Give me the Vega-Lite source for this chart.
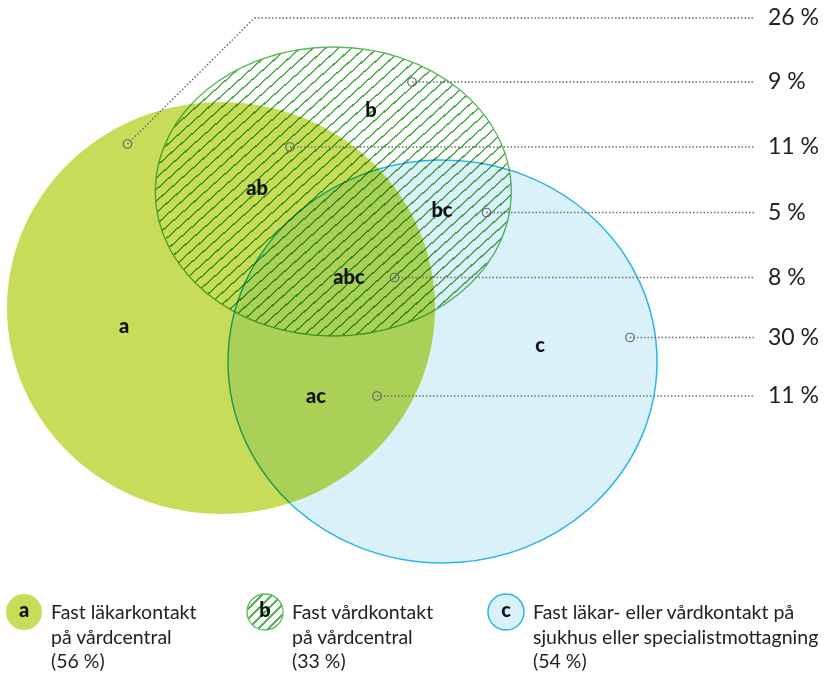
{
  "$schema": "https://vega.github.io/schema/vega-lite/v6.json",
  "width": 826,
  "height": 673,
  "autosize": {"type": "none"},
  "padding": 0,
  "background": "#ffffff",
  "config": {"view": {"stroke": null}, "font": "Lato"},
  "datasets": {
    "sets": [
      {"set": "a", "pct": 56, "cx": 221, "cy": 308, "desc": "Fast läkarkontakt\npå vårdcentral"},
      {"set": "b", "pct": 33, "cx": 333.25, "cy": 191.5, "desc": "Fast vårdkontakt\npå vårdcentral"},
      {"set": "c", "pct": 54, "cx": 442.5, "cy": 361.5, "desc": "Fast läkar- eller vårdkontakt på\nsjukhus eller specialistmottagning"}
    ],
    "regions": [
      {"region": "a", "pct": 26, "tx": 124, "ty": 327, "mx": 127.5, "my": 144, "bx": 254.5, "ly": 18},
      {"region": "b", "pct": 9, "tx": 371, "ty": 111, "mx": 412, "my": 82, "bx": 412, "ly": 82},
      {"region": "ab", "pct": 11, "tx": 257, "ty": 189, "mx": 290, "my": 147, "bx": 290, "ly": 147},
      {"region": "bc", "pct": 5, "tx": 442, "ty": 211, "mx": 486.5, "my": 212.5, "bx": 486.5, "ly": 212.5},
      {"region": "abc", "pct": 8, "tx": 349, "ty": 278, "mx": 394.5, "my": 277.5, "bx": 394.5, "ly": 277.5},
      {"region": "c", "pct": 30, "tx": 540, "ty": 346, "mx": 630, "my": 337.5, "bx": 630, "ly": 337.5},
      {"region": "ac", "pct": 11, "tx": 316, "ty": 397, "mx": 377, "my": 396, "bx": 377, "ly": 396}
    ]
  },
  "resolve": {"scale": {"x": "independent"}},
  "layer": [
    {
      "layer": [
        {
          "data": {"name": "sets"},
          "transform": [{"filter": "datum.set === 'a'"}],
          "mark": {"type": "point", "shape": "M-0.9043,0A0.9043,0.8705 0 1,0 0.9043,0A0.9043,0.8705 0 1,0 -0.9043,0Z", "filled": true, "fill": "#c8dc5a", "strokeWidth": 0, "opacity": 1},
          "encoding": {
            "x": {"field": "cx", "type": "quantitative", "scale": {"domain": [0, 826], "nice": false, "zero": false}, "axis": null},
            "y": {"field": "cy", "type": "quantitative", "scale": {"domain": [0, 673], "nice": false, "zero": false, "reverse": true}, "axis": null},
            "size": {"field": "pct", "type": "quantitative", "scale": {"type": "linear", "domain": [0, 100], "range": [0, 400000], "zero": true}, "legend": null}
          }
        },
        {
          "data": {"name": "sets"},
          "transform": [{"filter": "datum.set === 'c'"}],
          "mark": {"type": "point", "shape": "M-0.9231,0A0.9231,0.8671 0 1,0 0.9231,0A0.9231,0.8671 0 1,0 -0.9231,0Z", "filled": true, "fill": "#daf1fa", "stroke": "#2ab5e8", "strokeWidth": 1.5, "opacity": 1, "blend": "multiply"},
          "encoding": {
            "x": {"field": "cx", "type": "quantitative"},
            "y": {"field": "cy", "type": "quantitative"},
            "size": {"field": "pct", "type": "quantitative"}
          }
        },
        {
          "data": {"name": "sets"},
          "transform": [{"filter": "datum.set === 'b'"}],
          "mark": {
            "type": "point",
            "shape": "M-0.9799,0A0.9799,0.7954 0 1,0 0.9799,0A0.9799,0.7954 0 1,0 -0.9799,0Z",
            "filled": true,
            "stroke": "#5cb85c",
            "strokeWidth": 1.3,
            "opacity": 1,
            "blend": "multiply",
            "fill": {
              "gradient": "linear", "x1": 0, "y1": 0, "x2": 1, "y2": 0.9,
              "stops": [
                {"offset": 0, "color": "#fff"},
                {"offset": 0.005, "color": "#fff"},{"offset": 0.005, "color": "#55b052"},{"offset": 0.0085, "color": "#55b052"},{"offset": 0.0085, "color": "#fff"},
                {"offset": 0.025, "color": "#fff"},{"offset": 0.025, "color": "#55b052"},{"offset": 0.0285, "color": "#55b052"},{"offset": 0.0285, "color": "#fff"},
                {"offset": 0.045, "color": "#fff"},{"offset": 0.045, "color": "#55b052"},{"offset": 0.0485, "color": "#55b052"},{"offset": 0.0485, "color": "#fff"},
                {"offset": 0.065, "color": "#fff"},{"offset": 0.065, "color": "#55b052"},{"offset": 0.0685, "color": "#55b052"},{"offset": 0.0685, "color": "#fff"},
                {"offset": 0.085, "color": "#fff"},{"offset": 0.085, "color": "#55b052"},{"offset": 0.0885, "color": "#55b052"},{"offset": 0.0885, "color": "#fff"},
                {"offset": 0.105, "color": "#fff"},{"offset": 0.105, "color": "#55b052"},{"offset": 0.1085, "color": "#55b052"},{"offset": 0.1085, "color": "#fff"},
                {"offset": 0.125, "color": "#fff"},{"offset": 0.125, "color": "#55b052"},{"offset": 0.1285, "color": "#55b052"},{"offset": 0.1285, "color": "#fff"},
                {"offset": 0.145, "color": "#fff"},{"offset": 0.145, "color": "#55b052"},{"offset": 0.1485, "color": "#55b052"},{"offset": 0.1485, "color": "#fff"},
                {"offset": 0.165, "color": "#fff"},{"offset": 0.165, "color": "#55b052"},{"offset": 0.1685, "color": "#55b052"},{"offset": 0.1685, "color": "#fff"},
                {"offset": 0.185, "color": "#fff"},{"offset": 0.185, "color": "#55b052"},{"offset": 0.1885, "color": "#55b052"},{"offset": 0.1885, "color": "#fff"},
                {"offset": 0.205, "color": "#fff"},{"offset": 0.205, "color": "#55b052"},{"offset": 0.2085, "color": "#55b052"},{"offset": 0.2085, "color": "#fff"},
                {"offset": 0.225, "color": "#fff"},{"offset": 0.225, "color": "#55b052"},{"offset": 0.2285, "color": "#55b052"},{"offset": 0.2285, "color": "#fff"},
                {"offset": 0.245, "color": "#fff"},{"offset": 0.245, "color": "#55b052"},{"offset": 0.2485, "color": "#55b052"},{"offset": 0.2485, "color": "#fff"},
                {"offset": 0.265, "color": "#fff"},{"offset": 0.265, "color": "#55b052"},{"offset": 0.2685, "color": "#55b052"},{"offset": 0.2685, "color": "#fff"},
                {"offset": 0.285, "color": "#fff"},{"offset": 0.285, "color": "#55b052"},{"offset": 0.2885, "color": "#55b052"},{"offset": 0.2885, "color": "#fff"},
                {"offset": 0.305, "color": "#fff"},{"offset": 0.305, "color": "#55b052"},{"offset": 0.3085, "color": "#55b052"},{"offset": 0.3085, "color": "#fff"},
                {"offset": 0.325, "color": "#fff"},{"offset": 0.325, "color": "#55b052"},{"offset": 0.3285, "color": "#55b052"},{"offset": 0.3285, "color": "#fff"},
                {"offset": 0.345, "color": "#fff"},{"offset": 0.345, "color": "#55b052"},{"offset": 0.3485, "color": "#55b052"},{"offset": 0.3485, "color": "#fff"},
                {"offset": 0.365, "color": "#fff"},{"offset": 0.365, "color": "#55b052"},{"offset": 0.3685, "color": "#55b052"},{"offset": 0.3685, "color": "#fff"},
                {"offset": 0.385, "color": "#fff"},{"offset": 0.385, "color": "#55b052"},{"offset": 0.3885, "color": "#55b052"},{"offset": 0.3885, "color": "#fff"},
                {"offset": 0.405, "color": "#fff"},{"offset": 0.405, "color": "#55b052"},{"offset": 0.4085, "color": "#55b052"},{"offset": 0.4085, "color": "#fff"},
                {"offset": 0.425, "color": "#fff"},{"offset": 0.425, "color": "#55b052"},{"offset": 0.4285, "color": "#55b052"},{"offset": 0.4285, "color": "#fff"},
                {"offset": 0.445, "color": "#fff"},{"offset": 0.445, "color": "#55b052"},{"offset": 0.4485, "color": "#55b052"},{"offset": 0.4485, "color": "#fff"},
                {"offset": 0.465, "color": "#fff"},{"offset": 0.465, "color": "#55b052"},{"offset": 0.4685, "color": "#55b052"},{"offset": 0.4685, "color": "#fff"},
                {"offset": 0.485, "color": "#fff"},{"offset": 0.485, "color": "#55b052"},{"offset": 0.4885, "color": "#55b052"},{"offset": 0.4885, "color": "#fff"},
                {"offset": 0.505, "color": "#fff"},{"offset": 0.505, "color": "#55b052"},{"offset": 0.5085, "color": "#55b052"},{"offset": 0.5085, "color": "#fff"},
                {"offset": 0.525, "color": "#fff"},{"offset": 0.525, "color": "#55b052"},{"offset": 0.5285, "color": "#55b052"},{"offset": 0.5285, "color": "#fff"},
                {"offset": 0.545, "color": "#fff"},{"offset": 0.545, "color": "#55b052"},{"offset": 0.5485, "color": "#55b052"},{"offset": 0.5485, "color": "#fff"},
                {"offset": 0.565, "color": "#fff"},{"offset": 0.565, "color": "#55b052"},{"offset": 0.5685, "color": "#55b052"},{"offset": 0.5685, "color": "#fff"},
                {"offset": 0.585, "color": "#fff"},{"offset": 0.585, "color": "#55b052"},{"offset": 0.5885, "color": "#55b052"},{"offset": 0.5885, "color": "#fff"},
                {"offset": 0.605, "color": "#fff"},{"offset": 0.605, "color": "#55b052"},{"offset": 0.6085, "color": "#55b052"},{"offset": 0.6085, "color": "#fff"},
                {"offset": 0.625, "color": "#fff"},{"offset": 0.625, "color": "#55b052"},{"offset": 0.6285, "color": "#55b052"},{"offset": 0.6285, "color": "#fff"},
                {"offset": 0.645, "color": "#fff"},{"offset": 0.645, "color": "#55b052"},{"offset": 0.6485, "color": "#55b052"},{"offset": 0.6485, "color": "#fff"},
                {"offset": 0.665, "color": "#fff"},{"offset": 0.665, "color": "#55b052"},{"offset": 0.6685, "color": "#55b052"},{"offset": 0.6685, "color": "#fff"},
                {"offset": 0.685, "color": "#fff"},{"offset": 0.685, "color": "#55b052"},{"offset": 0.6885, "color": "#55b052"},{"offset": 0.6885, "color": "#fff"},
                {"offset": 0.705, "color": "#fff"},{"offset": 0.705, "color": "#55b052"},{"offset": 0.7085, "color": "#55b052"},{"offset": 0.7085, "color": "#fff"},
                {"offset": 0.725, "color": "#fff"},{"offset": 0.725, "color": "#55b052"},{"offset": 0.7285, "color": "#55b052"},{"offset": 0.7285, "color": "#fff"},
                {"offset": 0.745, "color": "#fff"},{"offset": 0.745, "color": "#55b052"},{"offset": 0.7485, "color": "#55b052"},{"offset": 0.7485, "color": "#fff"},
                {"offset": 0.765, "color": "#fff"},{"offset": 0.765, "color": "#55b052"},{"offset": 0.7685, "color": "#55b052"},{"offset": 0.7685, "color": "#fff"},
                {"offset": 0.785, "color": "#fff"},{"offset": 0.785, "color": "#55b052"},{"offset": 0.7885, "color": "#55b052"},{"offset": 0.7885, "color": "#fff"},
                {"offset": 0.805, "color": "#fff"},{"offset": 0.805, "color": "#55b052"},{"offset": 0.8085, "color": "#55b052"},{"offset": 0.8085, "color": "#fff"},
                {"offset": 0.825, "color": "#fff"},{"offset": 0.825, "color": "#55b052"},{"offset": 0.8285, "color": "#55b052"},{"offset": 0.8285, "color": "#fff"},
                {"offset": 0.845, "color": "#fff"},{"offset": 0.845, "color": "#55b052"},{"offset": 0.8485, "color": "#55b052"},{"offset": 0.8485, "color": "#fff"},
                {"offset": 0.865, "color": "#fff"},{"offset": 0.865, "color": "#55b052"},{"offset": 0.8685, "color": "#55b052"},{"offset": 0.8685, "color": "#fff"},
                {"offset": 0.885, "color": "#fff"},{"offset": 0.885, "color": "#55b052"},{"offset": 0.8885, "color": "#55b052"},{"offset": 0.8885, "color": "#fff"},
                {"offset": 0.905, "color": "#fff"},{"offset": 0.905, "color": "#55b052"},{"offset": 0.9085, "color": "#55b052"},{"offset": 0.9085, "color": "#fff"},
                {"offset": 0.925, "color": "#fff"},{"offset": 0.925, "color": "#55b052"},{"offset": 0.9285, "color": "#55b052"},{"offset": 0.9285, "color": "#fff"},
                {"offset": 0.945, "color": "#fff"},{"offset": 0.945, "color": "#55b052"},{"offset": 0.9485, "color": "#55b052"},{"offset": 0.9485, "color": "#fff"},
                {"offset": 0.965, "color": "#fff"},{"offset": 0.965, "color": "#55b052"},{"offset": 0.9685, "color": "#55b052"},{"offset": 0.9685, "color": "#fff"},
                {"offset": 0.985, "color": "#fff"},{"offset": 0.985, "color": "#55b052"},{"offset": 0.9885, "color": "#55b052"},{"offset": 0.9885, "color": "#fff"},
                {"offset": 1, "color": "#fff"}
              ]
            }
          },
          "encoding": {
            "x": {"field": "cx", "type": "quantitative"},
            "y": {"field": "cy", "type": "quantitative"},
            "size": {"field": "pct", "type": "quantitative"}
          }
        },
        {
          "data": {"name": "regions"},
          "transform": [{"filter": "datum.bx !== datum.mx"}],
          "mark": {"type": "rule", "stroke": "#6f6f6f", "strokeWidth": 1.5, "strokeDash": [1.5, 2]},
          "encoding": {
            "x": {"field": "mx", "type": "quantitative"},
            "y": {"field": "my", "type": "quantitative"},
            "x2": {"field": "bx"},
            "y2": {"field": "ly"}
          }
        },
        {
          "data": {"name": "regions"},
          "mark": {"type": "rule", "stroke": "#6f6f6f", "strokeWidth": 1.5, "strokeDash": [1.5, 2]},
          "encoding": {
            "x": {"field": "bx", "type": "quantitative"},
            "y": {"field": "ly", "type": "quantitative"},
            "x2": {"datum": 755}
          }
        },
        {
          "data": {"name": "regions"},
          "mark": {"type": "point", "shape": "circle", "size": 72, "filled": false, "stroke": "#666666", "strokeWidth": 1.2, "opacity": 1},
          "encoding": {
            "x": {"field": "mx", "type": "quantitative"},
            "y": {"field": "my", "type": "quantitative"}
          }
        },
        {
          "data": {"name": "regions"},
          "mark": {"type": "text", "fontSize": 20, "fontWeight": 900, "align": "center", "baseline": "middle", "color": "#111111"},
          "encoding": {
            "x": {"field": "tx", "type": "quantitative"},
            "y": {"field": "ty", "type": "quantitative"},
            "text": {"field": "region"}
          }
        },
        {
          "data": {"name": "regions"},
          "transform": [{"calculate": "datum.pct + ' %'", "as": "lab"}],
          "mark": {"type": "text", "fontSize": 23, "align": "left", "baseline": "middle", "color": "#222222"},
          "encoding": {
            "x": {"datum": 768, "type": "quantitative"},
            "y": {"field": "ly", "type": "quantitative"},
            "text": {"field": "lab"}
          }
        }
      ]
    },
    {
      "layer": [
        {
          "data": {"name": "sets"},
          "transform": [{"filter": "datum.set === 'a'"}],
          "mark": {"type": "point", "shape": "circle", "size": 1296, "filled": true, "fill": "#c8dc5a", "strokeWidth": 0, "opacity": 1},
          "encoding": {
            "x": {"field": "set", "type": "nominal", "scale": {"type": "point", "domain": ["a", "b", "c"], "range": [24, 506], "padding": 0}, "axis": null},
            "y": {"datum": 612, "type": "quantitative", "scale": {"domain": [0, 673], "nice": false, "zero": false, "reverse": true}, "axis": null}
          }
        },
        {
          "data": {"name": "sets"},
          "transform": [{"filter": "datum.set === 'c'"}],
          "mark": {"type": "point", "shape": "circle", "size": 1296, "filled": true, "fill": "#daf1fa", "stroke": "#2ab5e8", "strokeWidth": 1.5, "opacity": 1},
          "encoding": {
            "x": {"field": "set", "type": "nominal"},
            "y": {"datum": 612, "type": "quantitative"}
          }
        },
        {
          "data": {"name": "sets"},
          "transform": [{"filter": "datum.set === 'b'"}],
          "mark": {
            "type": "point", "shape": "circle", "size": 1296, "filled": true, "stroke": "#5cb85c", "strokeWidth": 1.3, "opacity": 1,
            "fill": {
              "gradient": "linear", "x1": 0, "y1": 0, "x2": 1, "y2": 1,
              "stops": [
                {"offset": 0, "color": "#fff"},
                {"offset": 0.205, "color": "#fff"},{"offset": 0.205, "color": "#58b455"},{"offset": 0.245, "color": "#58b455"},{"offset": 0.245, "color": "#fff"},
                {"offset": 0.3425, "color": "#fff"},{"offset": 0.3425, "color": "#58b455"},{"offset": 0.3825, "color": "#58b455"},{"offset": 0.3825, "color": "#fff"},
                {"offset": 0.48, "color": "#fff"},{"offset": 0.48, "color": "#58b455"},{"offset": 0.52, "color": "#58b455"},{"offset": 0.52, "color": "#fff"},
                {"offset": 0.6175, "color": "#fff"},{"offset": 0.6175, "color": "#58b455"},{"offset": 0.6575, "color": "#58b455"},{"offset": 0.6575, "color": "#fff"},
                {"offset": 0.755, "color": "#fff"},{"offset": 0.755, "color": "#58b455"},{"offset": 0.795, "color": "#58b455"},{"offset": 0.795, "color": "#fff"},
                {"offset": 1, "color": "#fff"}
              ]
            }
          },
          "encoding": {
            "x": {"field": "set", "type": "nominal"},
            "y": {"datum": 612, "type": "quantitative"}
          }
        },
        {
          "data": {"name": "sets"},
          "mark": {"type": "text", "fontSize": 20, "fontWeight": 900, "align": "center", "baseline": "middle", "dy": -1, "color": "#111111"},
          "encoding": {
            "x": {"field": "set", "type": "nominal"},
            "y": {"datum": 612, "type": "quantitative"},
            "text": {"field": "set"}
          }
        },
        {
          "data": {"name": "sets"},
          "transform": [{"calculate": "datum.desc + '\\n(' + datum.pct + ' %)'", "as": "txt"}],
          "mark": {"type": "text", "fontSize": 19.5, "align": "left", "baseline": "alphabetic", "dx": 27, "dy": 7, "lineBreak": "\n", "lineHeight": 24.5, "color": "#222222"},
          "encoding": {
            "x": {"field": "set", "type": "nominal"},
            "y": {"datum": 612, "type": "quantitative"},
            "text": {"field": "txt"}
          }
        }
      ]
    }
  ]
}
